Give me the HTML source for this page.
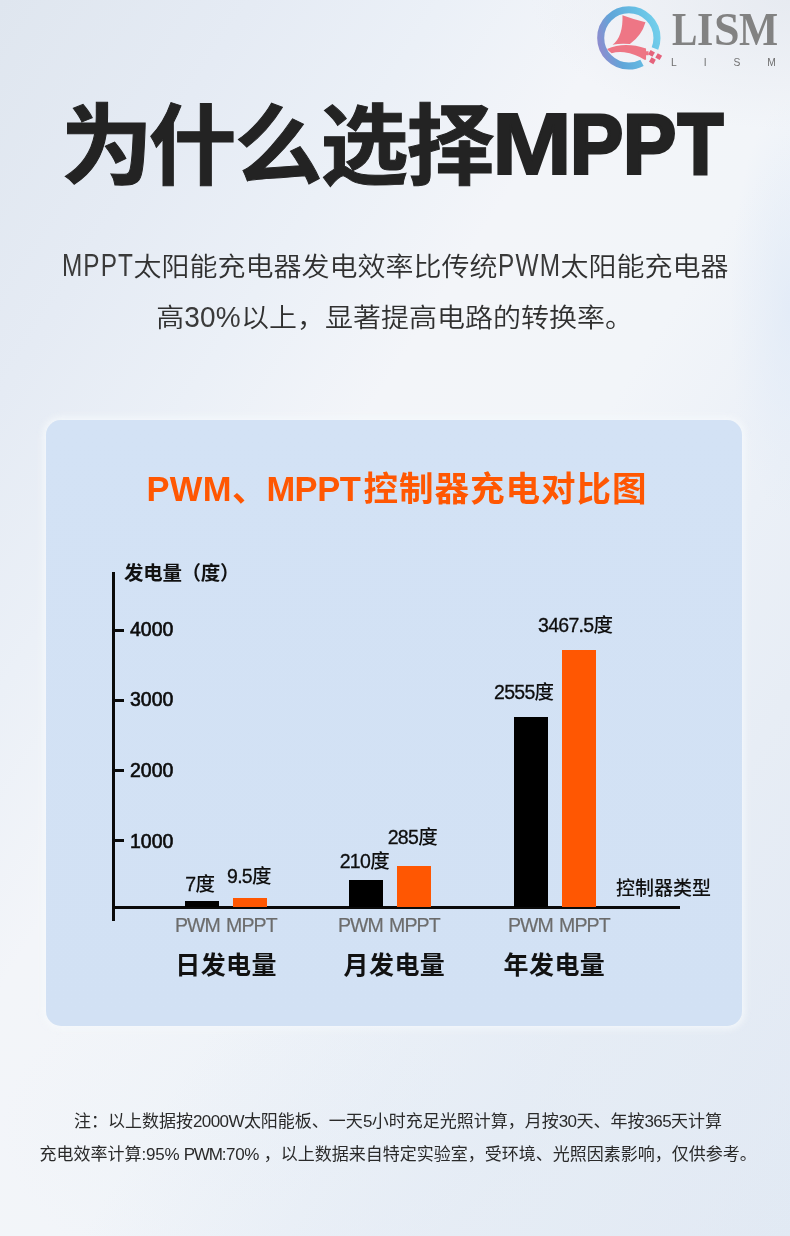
<!DOCTYPE html>
<html lang="zh-CN">
<head>
<meta charset="utf-8">
<title>为什么选择MPPT</title>
<style>
html,body{margin:0;padding:0;}
body{width:790px;height:1236px;position:relative;overflow:hidden;
  font-family:"Liberation Sans","Noto Sans CJK SC",sans-serif;color:#222;
  background:
    radial-gradient(ellipse 520px 230px at 520px 1130px, rgba(226,235,245,.38) 0, rgba(226,235,245,.2) 60%, rgba(226,235,245,0) 100%),
    radial-gradient(ellipse 60px 210px at 790px 310px, rgba(224,234,247,.75) 0, rgba(224,234,247,0) 100%),
    radial-gradient(ellipse 260px 130px at 790px 0px, rgba(228,232,239,.8) 0, rgba(228,232,239,0) 100%),
    linear-gradient(to bottom right,#dfe6ef 0%,#e5ebf4 16%,#ebf0f7 28%,#f3f5f9 40%,#f2f5f9 55%,#ebf0f7 68%,#e7edf5 78%,#e3eaf4 93%,#e1e9f3 100%);
}
.abs{position:absolute;white-space:nowrap;line-height:1;}
.lat{font-family:"Liberation Sans",sans-serif;}
/* ---------- logo ---------- */
#logo{position:absolute;left:590px;top:0;width:90px;height:76px;}
#brand{left:0;top:0;font-family:"Liberation Serif",serif;font-weight:700;font-size:44.5px;color:#828282;}
#brand span{position:absolute;top:6.66px;line-height:1;transform-origin:0 0;}
#brand .b1{left:671.5px;transform:scale(.854,1.03);}
#brand .b2{left:697.3px;transform:scale(.94,1.03);}
#brand .b3{left:713.5px;transform:scale(1.033,1.03);}
#brand .b4{left:739px;transform:scale(.932,1.03);}
#brand2{left:671px;top:58px;font-family:"Liberation Sans",sans-serif;font-size:10.3px;color:#707070;letter-spacing:26.9px;}
/* ---------- header ---------- */
#title{left:62.5px;top:103px;font-size:88px;font-weight:700;color:#232323;letter-spacing:-2px;-webkit-text-stroke:1px #232323;}
#title .w1{display:inline-block;transform:scaleX(1.05);transform-origin:55% 50%;}
#title2{left:0;top:0;font-weight:700;color:#232323;}
#title2 span{position:absolute;line-height:1;transform-origin:0 0;}
#title2 .m{left:491.7px;top:99.5px;font-size:88px;-webkit-text-stroke:1.8px #232323;transform:scaleX(1.09);}
#title2 .p1{left:569.9px;top:100.6px;font-size:86px;-webkit-text-stroke:3px #232323;transform:scaleX(.93);}
#title2 .p2{left:623.2px;top:100.6px;font-size:86px;-webkit-text-stroke:3px #232323;transform:scaleX(.93);}
#title2 .t{left:677.7px;top:100.95px;font-size:85px;-webkit-text-stroke:4px #232323;transform:scaleX(.865);}
#sub1,#sub2{font-size:28px;font-weight:350;color:#303030;}
#sub1,#sub2{transform:scaleY(.94);transform-origin:0 100%;}
#sub1{left:62px;top:253px;}
#sub2{left:156.3px;top:303.5px;}
#sub1 .lat{display:inline-block;transform:scale(.87,1.17);transform-origin:0 84.65%;letter-spacing:1.2px;color:#3a3a3a;}
#sub1 .l1{width:71.4px;}
#sub1 .l2{width:62.6px;margin-left:.4px;letter-spacing:1.4px;}
#sub2 .lat{display:inline-block;letter-spacing:.2px;transform:scale(1,1.14);transform-origin:0 84.65%;color:#3a3a3a;}
/* ---------- card ---------- */
#card{position:absolute;left:46px;top:420px;width:696px;height:606px;border-radius:15px;
  background:linear-gradient(180deg,#d3e2f5,#d2e1f4);
  box-shadow:0 0 7px 3px rgba(246,249,252,.85);}
#ctitle{left:146.5px;top:471.5px;font-size:34.5px;font-weight:700;color:#ff5702;letter-spacing:1px;}
#ctitle .c1{letter-spacing:.35px;}
#ctitle .c2{letter-spacing:-.5px;margin-left:-1px;margin-right:3.4px;}
.bar{position:absolute;}
.k{background:#000;}
.o{background:#ff5702;}
.ax{position:absolute;background:#0a0a0a;}
.num{font-size:19.5px;color:#0c0c0c;-webkit-text-stroke:.6px #0c0c0c;transform:scaleY(1.05);transform-origin:0 50%;}
.val{font-size:19.5px;color:#0e0e0e;font-weight:500;}
.val .lat{letter-spacing:-.7px;-webkit-text-stroke:.3px #0e0e0e;}
.typ{font-size:19.5px;color:#6c6c6c;letter-spacing:-.9px;word-spacing:1.6px;-webkit-text-stroke:.2px #6c6c6c;}
.grp{font-size:25px;font-weight:700;color:#111;letter-spacing:.4px;}
#ylab{left:124px;top:563.5px;font-size:19.5px;font-weight:700;color:#111;letter-spacing:-.3px;}
#xlab{left:616px;top:879px;font-size:19px;font-weight:500;color:#111;}
.note{font-size:17px;color:#2a2a2a;font-weight:400;}
.note .lat{letter-spacing:-.6px;}
.note .la{letter-spacing:-.25px;}
.note .lb{letter-spacing:-1.2px;}
.note .lc{letter-spacing:-.35px;}
</style>
</head>
<body>
<svg id="logo" viewBox="0 0 790 667">
  <defs>
    <linearGradient id="rg" gradientUnits="userSpaceOnUse" x1="63" y1="380" x2="619" y2="250">
      <stop offset="0" stop-color="#908bce"/>
      <stop offset=".3" stop-color="#5fa6d9"/>
      <stop offset=".7" stop-color="#66bfe4"/>
      <stop offset="1" stop-color="#74d0ec"/>
    </linearGradient>
  </defs>
  <circle cx="341" cy="333" r="247" fill="none" stroke="url(#rg)" stroke-width="62" stroke-dasharray="94.8 172.4 1284.8"/>
  <path d="M285 133 Q385 170 487 195 Q455 310 350 387 Q270 380 198 392 Q292 320 285 133Z" fill="#ee7685"/>
  <path d="M150 430 Q300 362 492 425 L492 450 L514 450 L514 484 L492 484 L492 524 L478 524 Q400 472 300 458 Q240 451 190 467 Q165 452 150 430Z" fill="#ee7685"/>
  <g fill="#e5637c">
    <rect x="-22" y="-22" width="44" height="44" transform="translate(540 468) rotate(30)"/>
    <rect x="-22" y="-22" width="44" height="44" transform="translate(603 497) rotate(30)"/>
    <rect x="-22" y="-22" width="44" height="44" transform="translate(548 533) rotate(30)"/>
  </g>
</svg>
<div id="brand" class="abs"><span class="b1">L</span><span class="b2">I</span><span class="b3">S</span><span class="b4">M</span></div>
<div id="brand2" class="abs">LISM</div>
<div id="title" class="abs"><span class="w1">为</span>什么选择</div>
<div id="title2" class="abs lat"><span class="m">M</span><span class="p1">P</span><span class="p2">P</span><span class="t">T</span></div>
<div id="sub1" class="abs"><span class="lat l1">MPPT</span>太阳能充电器发电效率比传统<span class="lat l2">PWM</span>太阳能充电器</div>
<div id="sub2" class="abs">高<span class="lat">30%</span>以上，显著提高电路的转换率。</div>

<div id="card"></div>
<div id="ctitle" class="abs"><span class="lat c1">PWM</span>、<span class="lat c2">MPPT</span>控制器充电对比图</div>

<!-- axes -->
<div class="ax" style="left:112px;top:572px;width:3px;height:349px;"></div>
<div class="ax" style="left:112px;top:906px;width:568px;height:3px;"></div>
<div class="ax" style="left:115px;top:629px;width:9px;height:3px;"></div>
<div class="ax" style="left:115px;top:699px;width:9px;height:3px;"></div>
<div class="ax" style="left:115px;top:769px;width:9px;height:3px;"></div>
<div class="ax" style="left:115px;top:839px;width:9px;height:3px;"></div>
<div id="ylab" class="abs">发电量（度）</div>
<div class="abs num lat" style="left:130px;top:619.7px;">4000</div>
<div class="abs num lat" style="left:130px;top:690px;">3000</div>
<div class="abs num lat" style="left:130px;top:760.6px;">2000</div>
<div class="abs num lat" style="left:130px;top:831.5px;">1000</div>
<div id="xlab" class="abs">控制器类型</div>

<!-- bars -->
<div class="bar k" style="left:185px;top:901px;width:34px;height:6px;"></div>
<div class="bar o" style="left:233px;top:898px;width:34px;height:9px;"></div>
<div class="bar k" style="left:349px;top:880px;width:34px;height:27px;"></div>
<div class="bar o" style="left:397px;top:866px;width:34px;height:41px;"></div>
<div class="bar k" style="left:514px;top:716.5px;width:34px;height:190.5px;"></div>
<div class="bar o" style="left:562px;top:650px;width:34px;height:257px;"></div>

<!-- value labels -->
<div class="abs val" style="left:185.3px;top:875px;"><span class="lat">7</span>度</div>
<div class="abs val" style="left:227px;top:867.4px;"><span class="lat">9.5</span>度</div>
<div class="abs val" style="left:339.7px;top:852px;"><span class="lat">210</span>度</div>
<div class="abs val" style="left:387.7px;top:827.9px;"><span class="lat">285</span>度</div>
<div class="abs val" style="left:494px;top:682.5px;"><span class="lat">2555</span>度</div>
<div class="abs val" style="left:538px;top:616px;"><span class="lat">3467.5</span>度</div>

<!-- type labels -->
<div class="abs typ lat" style="left:175px;top:916px;">PWM MPPT</div>
<div class="abs typ lat" style="left:338px;top:916px;">PWM MPPT</div>
<div class="abs typ lat" style="left:508px;top:916px;">PWM MPPT</div>

<!-- group labels -->
<div class="abs grp" style="left:175.3px;top:952.5px;">日发电量</div>
<div class="abs grp" style="left:343.6px;top:952.5px;">月发电量</div>
<div class="abs grp" style="left:503.6px;top:952.5px;">年发电量</div>

<!-- notes -->
<div class="abs note" style="left:74px;top:1112.8px;">注：以上数据按<span class="lat">2000W</span>太阳能板、一天<span class="lat">5</span>小时充足光照计算，月按<span class="lat">30</span>天、年按<span class="lat">365</span>天计算</div>
<div class="abs note" style="left:39.5px;top:1145.5px;">充电效率计算<span class="lat la">:95% </span><span class="lat lb">PWM</span><span class="lat lc">:70%</span> ，以上数据来自特定实验室，受环境、光照因素影响，仅供参考。</div>
</body>
</html>
